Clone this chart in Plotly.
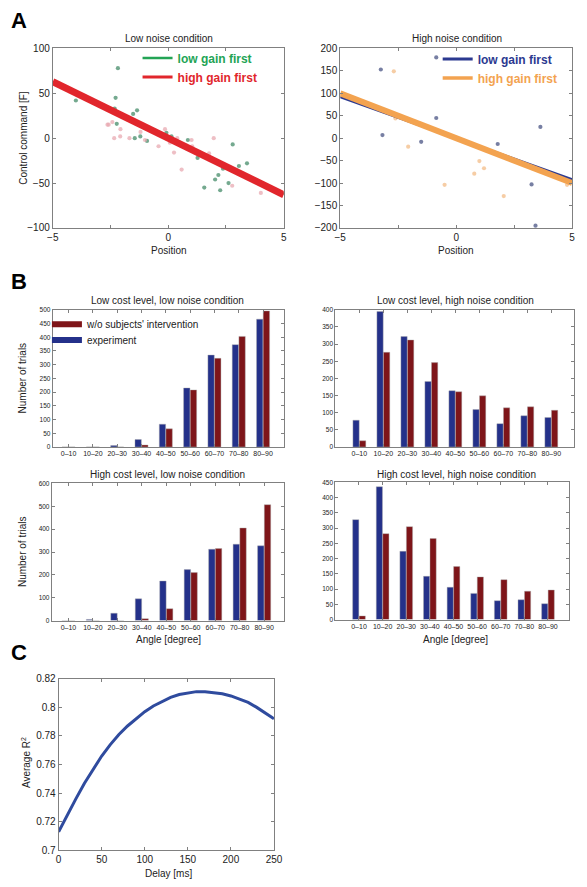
import plotly.graph_objects as go

W, H = 587, 887
FONT = "Liberation Sans, Arial, Helvetica, sans-serif"
TXT = "#222222"
AX = "#808080"

# ---------------- Panel A data ----------------
low_noise_lowgain_x = [-4.0, -2.18, -2.28, -2.32, -2.23, -1.35, -1.52, -1.45, -1.21, -0.92, -0.08, 0.14,
                       0.85, 1.27, 1.56, 2.03, 2.17, 2.25, 2.37, 2.61, 2.79, 3.06, 3.41]
low_noise_lowgain_y = [42, 78, 45, 33, 16, 31, 27, 0, 2, -3, 6, 2,
                       -2, -22, -55, -46, -41, -58, -34, -50, -7, -31, -28]
low_noise_highgain_x = [-2.63, -2.42, -2.58, -2.07, -2.34, -2.08, -1.80, -1.68, -1.20, -1.01, -0.42, -0.14,
                        0.0, 0.07, 0.25, 0.39, 0.58, 1.01, 1.04, 1.38, 1.77, 1.97, 2.77, 4.01]
low_noise_highgain_y = [15, 18, 15, 10, 0, 2, 21, 0, 7, -2, -9, 10,
                        0, -5, -16, 0, -35, -2, -9, -18, -17, 0, -53, -61]
high_noise_lowgain_x = [-3.25, -3.18, -0.86, -0.86, -1.51, 1.79, 3.25, 3.63, 3.42]
high_noise_lowgain_y = [153, 7, 180, 45, -8, -13, -103, 25, -195]
high_noise_highgain_x = [-2.69, -2.62, -2.07, -0.50, 0.78, 1.0, 1.2, 2.05, 4.78]
high_noise_highgain_y = [149, 44, -19, -104, -79, -51, -67, -129, -104]

fit_x = [-5, 5]
low_noise_fit_lowgain = [62, -62]
low_noise_fit_highgain = [63, -63]
high_noise_fit_lowgain = [92, -92]
high_noise_fit_highgain = [100, -100]

position_ticks = [-5, 0, 5]
position_ticklabels = ["−5", "0", "5"]

# ---------------- Panel B data ----------------
angle_bins = ["0–10", "10–20", "20–30", "30–40", "40–50", "50–60", "60–70", "70–80", "80–90"]
lc_ln_experiment = [0, 0, 5, 27, 83, 215, 335, 373, 466]
lc_ln_model = [0, 0, 0, 7, 66, 208, 323, 403, 496]
lc_hn_experiment = [78, 395, 322, 191, 164, 109, 68, 91, 86]
lc_hn_model = [18, 276, 312, 246, 161, 149, 114, 117, 107]
hc_ln_experiment = [0, 5, 32, 95, 173, 223, 312, 334, 327]
hc_ln_model = [0, 0, 0, 8, 52, 210, 315, 405, 507]
hc_hn_experiment = [328, 436, 224, 142, 106, 86, 62, 65, 52]
hc_hn_model = [12, 282, 305, 266, 174, 140, 131, 93, 97]

# ---------------- Panel C data ----------------
delay_ms = [0, 10, 20, 30, 40, 50, 60, 70, 80, 90, 100, 110, 120, 130, 140, 150, 160, 170, 180,
            190, 200, 210, 220, 230, 240, 250]
avg_r2 = [0.713, 0.725, 0.736, 0.747, 0.757, 0.766, 0.774, 0.781, 0.787, 0.792, 0.797, 0.801,
          0.804, 0.807, 0.809, 0.810, 0.811, 0.811, 0.8105, 0.8095, 0.808, 0.806, 0.8035,
          0.800, 0.796, 0.792]

GREEN = "#23a455"
RED = "#e1262c"
NAVY = "#2b3990"
ORANGE = "#f3a350"
BAR_BLUE = "#24318a"
BAR_RED = "#7e1519"


def xd(x0, x1):
    return [x0 / W, x1 / W]


def yd(y0, y1):
    return [1 - y1 / H, 1 - y0 / H]


fig = go.Figure()

# Panel A left
fig.add_trace(go.Scatter(x=low_noise_lowgain_x, y=low_noise_lowgain_y, mode="markers",
                         marker=dict(color="rgba(70,140,105,0.75)", size=4.2), showlegend=False,
                         xaxis="x", yaxis="y"))
fig.add_trace(go.Scatter(x=low_noise_highgain_x, y=low_noise_highgain_y, mode="markers",
                         marker=dict(color="rgba(232,170,178,0.75)", size=4.2), showlegend=False,
                         xaxis="x", yaxis="y"))
fig.add_trace(go.Scatter(x=fit_x, y=low_noise_fit_lowgain, mode="lines",
                         line=dict(color=GREEN, width=2.5), showlegend=False, xaxis="x", yaxis="y"))
fig.add_trace(go.Scatter(x=fit_x, y=low_noise_fit_highgain, mode="lines",
                         line=dict(color=RED, width=7), showlegend=False, xaxis="x", yaxis="y"))
fig.add_trace(go.Scatter(x=[None], y=[None], mode="lines", line=dict(color=GREEN, width=2.5),
                         name="<span style='color:%s'><b>low gain first</b></span>" % GREEN,
                         legend="legend", xaxis="x", yaxis="y"))
fig.add_trace(go.Scatter(x=[None], y=[None], mode="lines", line=dict(color=RED, width=3),
                         name="<span style='color:%s'><b>high gain first</b></span>" % RED,
                         legend="legend", xaxis="x", yaxis="y"))

# Panel A right
fig.add_trace(go.Scatter(x=high_noise_lowgain_x, y=high_noise_lowgain_y, mode="markers",
                         marker=dict(color="rgba(85,95,140,0.8)", size=4.2), showlegend=False,
                         xaxis="x2", yaxis="y2"))
fig.add_trace(go.Scatter(x=high_noise_highgain_x, y=high_noise_highgain_y, mode="markers",
                         marker=dict(color="rgba(245,200,155,0.9)", size=4.2), showlegend=False,
                         xaxis="x2", yaxis="y2"))
fig.add_trace(go.Scatter(x=fit_x, y=high_noise_fit_lowgain, mode="lines",
                         line=dict(color=NAVY, width=2.5), showlegend=False, xaxis="x2", yaxis="y2"))
fig.add_trace(go.Scatter(x=fit_x, y=high_noise_fit_highgain, mode="lines",
                         line=dict(color=ORANGE, width=6), showlegend=False, xaxis="x2", yaxis="y2"))
fig.add_trace(go.Scatter(x=[None], y=[None], mode="lines", line=dict(color=NAVY, width=3),
                         name="<span style='color:%s'><b>low gain first</b></span>" % NAVY,
                         legend="legend2", xaxis="x2", yaxis="y2"))
fig.add_trace(go.Scatter(x=[None], y=[None], mode="lines", line=dict(color=ORANGE, width=3.5),
                         name="<span style='color:%s'><b>high gain first</b></span>" % ORANGE,
                         legend="legend2", xaxis="x2", yaxis="y2"))

# Panel B bars
bar_sets = [
    (lc_ln_experiment, lc_ln_model, "x3", "y3"),
    (lc_hn_experiment, lc_hn_model, "x4", "y4"),
    (hc_ln_experiment, hc_ln_model, "x5", "y5"),
    (hc_hn_experiment, hc_hn_model, "x6", "y6"),
]
for exp_vals, mod_vals, xa, ya in bar_sets:
    fig.add_trace(go.Bar(x=angle_bins, y=exp_vals, marker=dict(color=BAR_BLUE,
                         line=dict(color="rgba(170,170,170,0.7)", width=0.6)),
                         showlegend=False, xaxis=xa, yaxis=ya))
    fig.add_trace(go.Bar(x=angle_bins, y=mod_vals, marker=dict(color=BAR_RED,
                         line=dict(color="rgba(170,170,170,0.7)", width=0.6)),
                         showlegend=False, xaxis=xa, yaxis=ya))

fig.add_trace(go.Scatter(x=[None], y=[None], mode="lines", line=dict(color=BAR_RED, width=6),
                         name="w/o subjects' intervention", legend="legend3", xaxis="x3", yaxis="y3"))
fig.add_trace(go.Scatter(x=[None], y=[None], mode="lines", line=dict(color=BAR_BLUE, width=6),
                         name="experiment", legend="legend4", xaxis="x3", yaxis="y3"))

# Panel C
fig.add_trace(go.Scatter(x=delay_ms, y=avg_r2, mode="lines", line=dict(color="#2f4b9e", width=3),
                         showlegend=False, xaxis="x7", yaxis="y7"))


def axis_style(**kw):
    d = dict(showline=True, linecolor=AX, linewidth=1, mirror="ticks", ticks="inside",
             ticklen=3, tickcolor=AX, tickwidth=1, showgrid=False, zeroline=False,
             tickfont=dict(family=FONT, size=9, color=TXT))
    d.update(kw)
    return d


pos_minor = dict(dtick=2.5, tick0=0, ticks="inside", ticklen=3, tickcolor=AX, showgrid=False)

layout = dict(
    width=W, height=H, margin=dict(l=0, r=0, t=0, b=0),
    paper_bgcolor="white", plot_bgcolor="white",
    font=dict(family=FONT, color=TXT),
    barmode="group", bargap=0.45, bargroupgap=0.05,
    xaxis=axis_style(domain=xd(48, 285), anchor="y", range=[-5, 5],
                     tickvals=position_ticks, ticktext=position_ticklabels, minor=pos_minor,
                     tickfont=dict(family=FONT, size=10, color=TXT)),
    yaxis=axis_style(domain=yd(43, 225), anchor="x", range=[-100, 100], dtick=50,
                     tickfont=dict(family=FONT, size=10, color=TXT)),
    xaxis2=axis_style(domain=xd(343, 581), anchor="y2", range=[-5, 5],
                      tickvals=position_ticks, ticktext=position_ticklabels, minor=pos_minor,
                      tickfont=dict(family=FONT, size=10, color=TXT)),
    yaxis2=axis_style(domain=yd(43, 225), anchor="x2", range=[-200, 200], dtick=50,
                      tickfont=dict(family=FONT, size=10, color=TXT)),
    xaxis3=axis_style(domain=xd(48, 285), anchor="y3", type="category", range=[-0.65, 8.85],
                      tickfont=dict(family=FONT, size=7, color=TXT)),
    yaxis3=axis_style(domain=yd(308, 447), anchor="x3", range=[0, 500], dtick=50,
                      tickfont=dict(family=FONT, size=6.5, color=TXT)),
    xaxis4=axis_style(domain=xd(338, 583), anchor="y4", type="category", range=[-1.0, 8.95],
                      tickfont=dict(family=FONT, size=7, color=TXT)),
    yaxis4=axis_style(domain=yd(308, 447), anchor="x4", range=[0, 400], dtick=50,
                      tickfont=dict(family=FONT, size=6.5, color=TXT)),
    xaxis5=axis_style(domain=xd(47, 285), anchor="y5", type="category", range=[-0.68, 8.8],
                      tickfont=dict(family=FONT, size=7, color=TXT)),
    yaxis5=axis_style(domain=yd(484, 623), anchor="x5", range=[0, 600], dtick=100,
                      tickfont=dict(family=FONT, size=6.5, color=TXT)),
    xaxis6=axis_style(domain=xd(338, 578), anchor="y6", type="category", range=[-1.0, 8.9],
                      tickfont=dict(family=FONT, size=7, color=TXT)),
    yaxis6=axis_style(domain=yd(483, 622), anchor="x6", range=[0, 450], dtick=50,
                      tickfont=dict(family=FONT, size=6.5, color=TXT)),
    xaxis7=axis_style(domain=xd(54, 275), anchor="y7", range=[0, 250], dtick=50,
                      tickfont=dict(family=FONT, size=10, color=TXT)),
    yaxis7=axis_style(domain=yd(682, 856), anchor="x7", range=[0.7, 0.82], dtick=0.02,
                      tickfont=dict(family=FONT, size=10, color=TXT)),
    legend=dict(x=135 / W, y=1 - 38 / H, xanchor="left", yanchor="top", bgcolor="rgba(0,0,0,0)",
                font=dict(family=FONT, size=12), traceorder="normal"),
    legend2=dict(x=443 / W, y=1 - 39 / H, xanchor="left", yanchor="top", bgcolor="rgba(0,0,0,0)",
                 font=dict(family=FONT, size=12), traceorder="normal"),
    legend3=dict(x=42 / W, y=1 - 308 / H, xanchor="left", yanchor="top", bgcolor="rgba(0,0,0,0)",
                 font=dict(family=FONT, size=10, color=TXT)),
    legend4=dict(x=42 / W, y=1 - 324 / H, xanchor="left", yanchor="top", bgcolor="rgba(0,0,0,0)",
                 font=dict(family=FONT, size=10, color=TXT)),
)
fig.update_layout(**layout)


def ann(text, x, y, size=10, bold=False, angle=0, xanchor="center"):
    if bold:
        text = "<b>%s</b>" % text
    fig.add_annotation(text=text, x=x / W, y=1 - y / H, xref="paper", yref="paper",
                       showarrow=False, textangle=angle, xanchor=xanchor, yanchor="middle",
                       font=dict(family=FONT, size=size, color=TXT if not bold else "#000"))


# panel letters
ann("A", 3, 15, size=22, bold=True, xanchor="left")
ann("B", 3, 279, size=22, bold=True, xanchor="left")
ann("C", 3, 655, size=22, bold=True, xanchor="left")

# titles
ann("Low noise condition", 167, 33, size=10)
ann("High noise condition", 463, 33, size=10)
ann("Position", 167, 248, size=10)
ann("Position", 462, 248, size=10)
ann("Control command [F]", 18, 134, size=10, angle=-90)

ann("Low cost level, low noise condition", 166, 299, size=10)
ann("Low cost level, high noise condition", 461, 299, size=10)
ann("High cost level, low noise condition", 166, 475, size=10)
ann("High cost level, high noise condition", 462, 475, size=10)
ann("Number of trials", 17, 377, size=10, angle=-90)
ann("Number of trials", 17, 553, size=10, angle=-90)
ann("Angle [degree]", 167, 642, size=10)
ann("Angle [degree]", 461, 642, size=10)

ann("Average R<sup>2</sup>", 20, 767, size=10, angle=-90)
ann("Delay [ms]", 167, 879, size=10)

fig.write_html("out.html", config={"displayModeBar": False},
               post_script="document.body.style.margin='0';document.body.style.overflow='hidden';")
